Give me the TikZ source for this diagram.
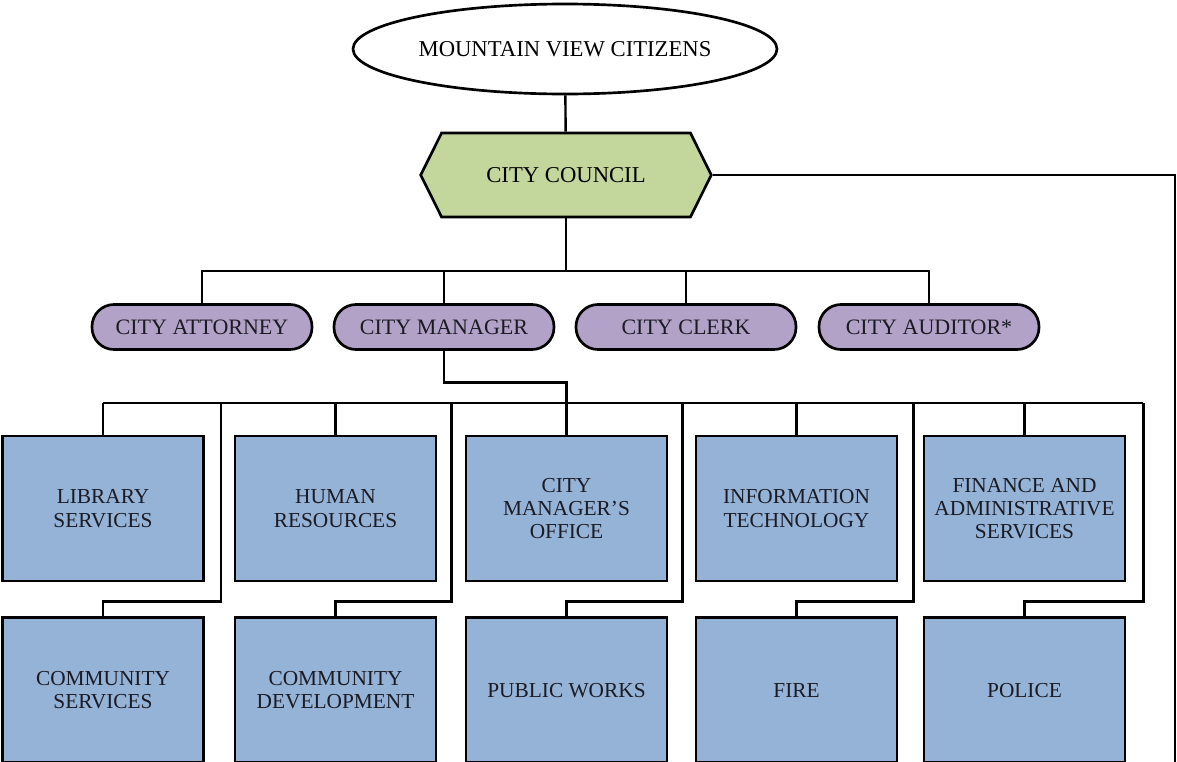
\documentclass[tikz,border=0pt]{standalone}
\usepackage{fontspec}
\setmainfont{Liberation Serif}
\usetikzlibrary{shapes.geometric,shapes.symbols,positioning}
\definecolor{CouncilGreen}{HTML}{C3D69B}
\definecolor{OfficerPurple}{HTML}{B3A2C7}
\definecolor{DeptBlue}{HTML}{95B3D7}
\definecolor{InkDark}{HTML}{1B1B24}

\begin{document}
\begin{tikzpicture}[x=0.75pt, y=-0.75pt,
    citizens/.style={ellipse, draw, line width=2pt, fill=white, minimum width=318pt, minimum height=67.5pt, inner sep=0pt, font=\fontsize{17}{18}\selectfont},
    council/.style={signal, signal to=west and east, signal pointer angle=127, draw, line width=2pt, fill=CouncilGreen, minimum width=218pt, minimum height=63pt, inner sep=0pt, font=\fontsize{17}{18}\selectfont},
    officer/.style={rectangle, rounded corners=16.5pt, draw, line width=2pt, fill=OfficerPurple, minimum width=165pt, minimum height=33.75pt, inner sep=0pt, font=\fontsize{16.5}{18}\selectfont, text=InkDark},
    dept/.style={rectangle, draw, line width=2pt, fill=DeptBlue, minimum width=150.75pt, minimum height=108.75pt, inner sep=0pt, align=center, font=\fontsize{16}{17.5}\selectfont, text=InkDark},
    conn/.style={draw, line width=1.8pt}
  ]
    \useasboundingbox (0,0) rectangle (1177,761);

    % top of the chart
    \node[citizens] (cit) at (565,49) {MOUNTAIN VIEW CITIZENS};
    \node[council] (cnc) at (566,175) {CITY COUNCIL};

    % appointed officers
    \node[officer] (att) at (202,327) {CITY ATTORNEY};
    \node[officer] (mgr) at (444,327) {CITY MANAGER};
    \node[officer] (clk) at (686,327) {CITY CLERK};
    \node[officer] (aud) at (929,327) {CITY AUDITOR*};

    % departments
    \node[dept] (lib) at (103,508.5) {LIBRARY\\SERVICES};
    \node[dept] (hr) at (335.5,508.5) {HUMAN\\RESOURCES};
    \node[dept] (cmo) at (566.5,508.5) {CITY\\MANAGER’S\\OFFICE};
    \node[dept] (it) at (796.5,508.5) {INFORMATION\\TECHNOLOGY};
    \node[dept] (fas) at (1024.5,508.5) {FINANCE AND\\ADMINISTRATIVE\\SERVICES};

    \node[dept, below=25.5pt of lib] (com) {COMMUNITY\\SERVICES};
    \node[dept, below=25.5pt of hr] (cdev) {COMMUNITY\\DEVELOPMENT};
    \node[dept, below=25.5pt of cmo] (pw) {PUBLIC WORKS};
    \node[dept, below=25.5pt of it] (fire) {FIRE};
    \node[dept, below=25.5pt of fas] (pol) {POLICE};

    \coordinate (bus1) at (566,271);
    \coordinate (bus2) at (566,403);
    \coordinate (rtop) at (1175,175);
    \coordinate (rbot) at (1175,775);

    \draw[conn] (cit) -- (cnc);
    \draw[conn] (cnc.east) -- (rtop) -- (rbot);

    \draw[conn] (cnc.south) -- (bus1);
    \draw[conn] (att.north) -- (att.north |- bus1) -- (aud.north |- bus1) -- (aud.north);
    \foreach \n in {mgr,clk}
      \draw[conn] (\n.north) -- (\n.north |- bus1);

    \draw[conn] (mgr.south) -- ++(0,31.5) -| (cmo.north);

    \draw[conn] (lib.north |- bus2) -- ([xshift=12.75pt]fas.east |- bus2);
    \foreach \t/\b/\g in {lib/com/12, hr/cdev/10.5, cmo/pw/10.5, it/fire/11.25, fas/pol/12.75} {
      \draw[conn] (\t.north) -- (\t.north |- bus2);
      \draw[conn] ([xshift=\g pt]\t.east |- bus2) |- ([yshift=11.25pt]\b.north) -- (\b.north);
    }
  \end{tikzpicture}
\end{document}
